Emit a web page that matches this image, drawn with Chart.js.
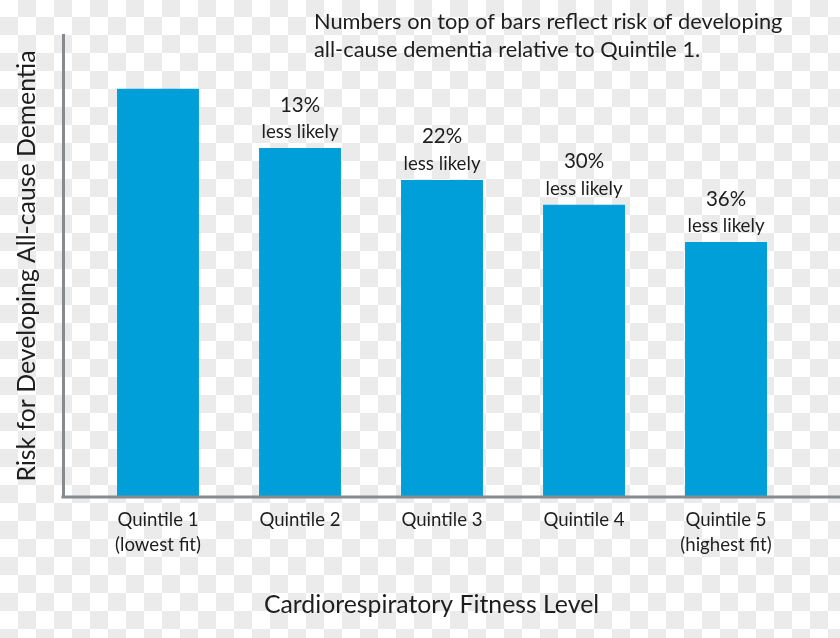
<!DOCTYPE html>
<html>
<head>
<meta charset="utf-8">
<script src="https://cdn.jsdelivr.net/npm/chart.js@4.4.1/dist/chart.umd.min.js"></script>
<style>
html, body { margin: 0; padding: 0; }
body {
  width: 840px;
  height: 638px;
  overflow: hidden;
  background-color: #fff;
  background-image: conic-gradient(#ebebeb 25%, #fff 0 50%, #ebebeb 0 75%, #fff 0);
  background-size: 36px 36px;
  background-position: 0 -1px;
}
</style>
</head>
<body>
<canvas id="chart" width="840" height="638"></canvas>
<script>
// values (risk relative to Quintile 1)
const categories = [
    ['Quintile 1', '(lowest fit)'],
    ['Quintile 2'],
    ['Quintile 3'],
    ['Quintile 4'],
    ['Quintile 5', '(highest fit)']
]
const relativeRisk = [1.0, 0.855, 0.777, 0.716, 0.625]
const reductionLabels = ['', '13%', '22%', '30%', '36%']
const noteText = 'less likely'
const titleLines = [
    'Numbers on top of bars reflect risk of developing',
    'all-cause dementia relative to Quintile 1.'
]
const yTitle = 'Risk for Developing All-cause Dementia'
const xTitle = 'Cardiorespiratory Fitness Level'

const textColor = '#1e1e1e'
const axisColor = '#858b8f'
const barColor = '#009fda'
const fontFamily = 'Lato, "Open Sans", sans-serif'

// bars sit on a linear x scale so the axis can start left of the first bar
const points = relativeRisk.map((v, i) => ({ x: i, y: v }))

const notesPlugin = {
    id: 'notes',
    afterDatasetsDraw(chart) {
        const ctx = chart.ctx
        const meta = chart.getDatasetMeta(0)
        const area = chart.chartArea
        ctx.save()

        // x axis line, from the y axis to the right edge
        ctx.strokeStyle = axisColor
        ctx.lineWidth = 3
        ctx.beginPath()
        ctx.moveTo(area.left - 1.5, area.bottom)
        ctx.lineTo(chart.width, area.bottom)
        ctx.stroke()

        ctx.fillStyle = textColor
        ctx.textAlign = 'center'
        ctx.textBaseline = 'middle'
        meta.data.forEach((bar, i) => {
            if (!reductionLabels[i]) return
            ctx.font = `20.5px ${fontFamily}`
            ctx.fillText(reductionLabels[i], bar.x, bar.y - 43)
            ctx.font = `18.7px ${fontFamily}`
            ctx.fillText(noteText, bar.x, bar.y - 16)
        })

        // heading in the top right
        ctx.textAlign = 'left'
        ctx.font = `21.8px ${fontFamily}`
        titleLines.forEach((line, i) => ctx.fillText(line, 314, 22 + i * 28))
        ctx.restore()
    }
}

const config = {
    type: 'bar',
    data: {
        datasets: [{
            data: points,
            backgroundColor: barColor,
            borderWidth: 0,
            categoryPercentage: 0.577,
            barPercentage: 1
        }]
    },
    options: {
        responsive: false,
        animation: false,
        layout: {
            padding: { top: 35, right: 40, left: 0, bottom: 0 }
        },
        plugins: {
            legend: { display: false },
            tooltip: { enabled: false },
            title: { display: false }
        },
        scales: {
            x: {
                type: 'linear',
                offset: false,
                min: -0.669,
                max: 4.521,
                grid: { display: false, drawTicks: false },
                border: { display: false },
                ticks: {
                    stepSize: 1,
                    includeBounds: false,
                    autoSkip: false,
                    maxRotation: 0,
                    padding: 10,
                    color: textColor,
                    font: { family: fontFamily, size: 18.6, lineHeight: 1.35 },
                    callback: (value) => Number.isInteger(value) ? categories[value] : ''
                },
                title: {
                    display: true,
                    text: xTitle,
                    color: textColor,
                    font: { family: fontFamily, size: 24.8, lineHeight: 1.2 },
                    padding: { top: 0, bottom: 18 }
                },
                afterFit: (scale) => { scale.height = 141 }
            },
            y: {
                min: 0,
                max: 1.132,
                grid: { display: false, drawTicks: false },
                border: { display: true, color: axisColor, width: 3 },
                ticks: { display: false },
                title: {
                    display: true,
                    text: yTitle,
                    color: textColor,
                    font: { family: fontFamily, size: 24.8, lineHeight: 1.2 },
                    padding: { top: 12, bottom: 0 }
                },
                afterFit: (scale) => { scale.width = 63 }
            }
        }
    },
    plugins: [notesPlugin]
}

new Chart(document.getElementById('chart'), config)
</script>
</body>
</html>
